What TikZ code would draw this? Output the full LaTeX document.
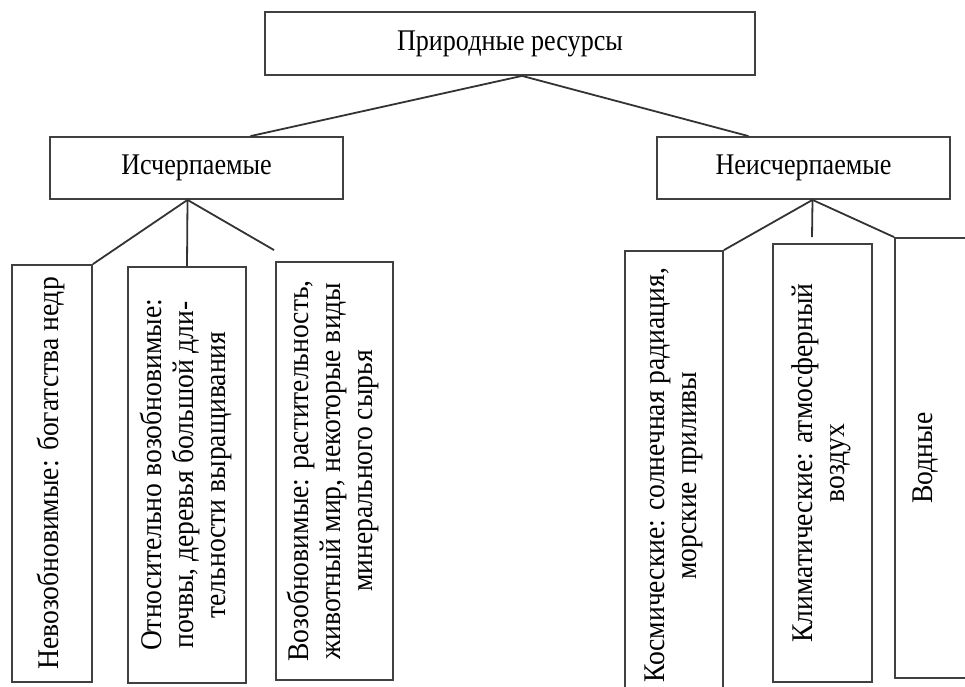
\documentclass[tikz,border=0pt]{standalone}
\usepackage{fontspec}
\setmainfont{Liberation Serif}
\usepackage{graphicx}
\newcommand{\uptext}[1]{\rotatebox{90}{\scalebox{0.92}[1]{\begin{tabular}{@{}c@{}}#1\end{tabular}}}}
\newcommand{\hword}[1]{\scalebox{0.87}[1]{#1}}
\begin{document}
\begin{tikzpicture}[x=1pt,y=-1pt,
  box/.style={draw=black!75,line width=1.8pt,inner sep=0pt,font=\fontsize{30}{32}\selectfont},
  link/.style={draw=black!80,line width=1.8pt}]
  \useasboundingbox (0,0) rectangle (965,686);
  \clip (0,0) rectangle (965,686);
  % levels 1 and 2
  \node[box,minimum width=490pt,minimum height=63pt] (res) at (510,43.5) {\hword{Природные ресурсы}};
  \node[box,minimum width=293pt,minimum height=62pt] (isch) at (196.5,168) {\hword{Исчерпаемые}};
  \node[box,minimum width=293pt,minimum height=62pt] (neisch) at (803.5,168) {\hword{Неисчерпаемые}};
  \draw[link] ([xshift=12pt]res.south) -- ([xshift=54pt]isch.north);
  \draw[link] ([xshift=12pt]res.south) -- ([xshift=-55pt]neisch.north);
  % exhaustible
  \node[box,minimum width=80pt,minimum height=417pt] (nevoz) at (52,473.5) {\uptext{Невозобновимые: богатства недр}};
  \node[box,minimum width=118pt,minimum height=416pt] (otn) at (187,475) {\uptext{Относительно возобновимые:\\почвы, деревья большой дли-\\тельности выращивания}};
  \node[box,minimum width=117pt,minimum height=418pt] (voz) at (334.5,471) {\uptext{Возобновимые: растительность,\\животный мир, некоторые виды\\минерального сырья}};
  \coordinate (vozend) at ([xshift=-1pt,yshift=11pt]voz.north west);
  \draw[link] ([xshift=-9pt]isch.south) -- (nevoz.north east);
  \draw[link] ([xshift=-9pt]isch.south) -- (otn.north);
  \draw[link] ([xshift=-9pt]isch.south) -- (vozend);
  % inexhaustible
  \node[box,minimum width=98pt,minimum height=449pt] (kosm) at (674,475.5) {\uptext{Космические: солнечная радиация,\\морские приливы}};
  \node[box,minimum width=99pt,minimum height=438pt] (klim) at (822.5,463) {\uptext{Климатические: атмосферный\\воздух}};
  \node[box,minimum width=95pt,minimum height=440pt] (vod) at (942.5,458) {\uptext{Водные\\ \mbox{}}};
  \coordinate (klimend) at ([xshift=-10.5pt,yshift=6pt]klim.north);
  \draw[link] ([xshift=9pt]neisch.south) -- (kosm.north east);
  \draw[link] ([xshift=9pt]neisch.south) -- (klimend);
  \draw[link] ([xshift=9pt]neisch.south) -- (vod.north west);
\end{tikzpicture}
\end{document}
